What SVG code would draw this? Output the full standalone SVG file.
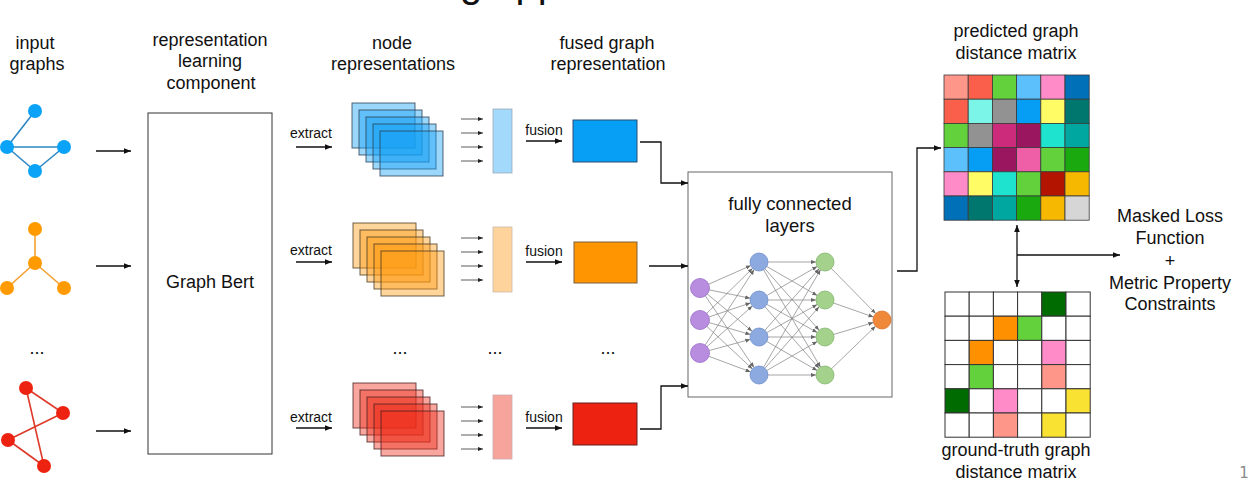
<svg xmlns="http://www.w3.org/2000/svg" width="1250" height="496" viewBox="0 0 1250 496">
<defs>
<style>
.t{font-family:"Liberation Sans",Arial,Helvetica,sans-serif;font-size:18px;fill:#111;text-anchor:middle}
.s{font-family:"Liberation Sans",Arial,Helvetica,sans-serif;font-size:14px;fill:#111;text-anchor:middle}
.c{stroke:#111;stroke-width:1.3;fill:none}
.sa{stroke:#333;stroke-width:0.8;fill:none}
.nn{stroke:#808080;stroke-width:0.7;fill:none}
.sb{stroke:#2a3f55;stroke-opacity:0.8;stroke-width:1;fill:#109ff5;fill-opacity:0.42}
.so{stroke:#4a3a20;stroke-opacity:0.8;stroke-width:1;fill:#ff9a10;fill-opacity:0.42}
.sr{stroke:#4a2020;stroke-opacity:0.8;stroke-width:1;fill:#ee2a18;fill-opacity:0.42}
.pm rect{stroke:#3a3a3a;stroke-width:0.8}
.gm rect{stroke:#333;stroke-width:1}
</style>
<marker id="ah" viewBox="0 0 10 10" refX="10" refY="5" markerWidth="7" markerHeight="7" markerUnits="userSpaceOnUse" orient="auto"><path d="M0,1 L10,5 L0,9 Z" fill="#111"/></marker>
<marker id="ahr" viewBox="0 0 10 10" refX="0" refY="5" markerWidth="7" markerHeight="7" markerUnits="userSpaceOnUse" orient="auto"><path d="M10,1 L0,5 L10,9 Z" fill="#111"/></marker>
<marker id="ahs" viewBox="0 0 10 10" refX="10" refY="5" markerWidth="5" markerHeight="5" markerUnits="userSpaceOnUse" orient="auto"><path d="M0,1 L10,5 L0,9 Z" fill="#222"/></marker>
<marker id="ahn" viewBox="0 0 10 10" refX="10" refY="5" markerWidth="5" markerHeight="5" markerUnits="userSpaceOnUse" orient="auto"><path d="M0,1 L10,5 L0,9 Z" fill="#666"/></marker>
</defs>
<rect width="1250" height="496" fill="#fff"/>

<text x="460" y="-3.5" style="font-family:'Liberation Sans',Arial,sans-serif;font-size:40px;fill:#111">g app</text>

<!-- headers -->
<g id="hdr-input"><text class="t" x="35" y="49">input</text><text class="t" x="37" y="70">graphs</text></g>
<g id="hdr-rep"><text class="t" x="210" y="46">representation</text><text class="t" x="210" y="67">learning</text><text class="t" x="211" y="89">component</text></g>
<g id="hdr-node"><text class="t" x="392" y="49">node</text><text class="t" x="393" y="70">representations</text></g>
<g id="hdr-fused"><text class="t" x="607" y="49">fused graph</text><text class="t" x="608" y="70">representation</text></g>
<g id="hdr-pred"><text class="t" x="1016" y="37">predicted graph</text><text class="t" x="1016" y="59">distance matrix</text></g>
<g id="hdr-gt"><text class="t" x="1016" y="456">ground-truth graph</text><text class="t" x="1016" y="478">distance matrix</text></g>
<g id="loss"><text class="t" x="1170" y="222">Masked Loss</text><text class="t" x="1170" y="244">Function</text><text class="t" x="1170" y="267">+</text><text class="t" x="1170" y="289">Metric Property</text><text class="t" x="1170" y="310">Constraints</text></g>
<text x="1244" y="478" style="font-family:'DejaVu Sans',sans-serif;font-size:15px;fill:#8a8a8a;text-anchor:middle">1</text>

<!-- input graphs -->
<g id="graph-blue" stroke="#2d87c4" stroke-width="1.6" fill="#0aa3f7">
<line x1="35" y1="111" x2="7" y2="147"/><line x1="7" y1="147" x2="64" y2="147"/><line x1="7" y1="147" x2="35" y2="171"/><line x1="35" y1="171" x2="64" y2="147"/>
<circle cx="35" cy="111" r="7" stroke="none"/><circle cx="7" cy="147" r="7" stroke="none"/><circle cx="64" cy="147" r="7" stroke="none"/><circle cx="35" cy="171" r="7" stroke="none"/>
</g>
<g id="graph-orange" stroke="#f5a030" stroke-width="1.6" fill="#ff9a00">
<line x1="35" y1="229" x2="35" y2="263"/><line x1="35" y1="263" x2="7" y2="288"/><line x1="35" y1="263" x2="64" y2="288"/>
<circle cx="35" cy="229" r="7" stroke="none"/><circle cx="35" cy="263" r="7" stroke="none"/><circle cx="7" cy="288" r="7" stroke="none"/><circle cx="64" cy="288" r="7" stroke="none"/>
</g>
<text class="t" x="37" y="354">...</text>
<g id="graph-red" stroke="#de3a2a" stroke-width="1.6" fill="#ee2211">
<line x1="26" y1="388" x2="63" y2="413"/><line x1="26" y1="388" x2="44" y2="466"/><line x1="63" y1="413" x2="8" y2="440"/><line x1="8" y1="440" x2="44" y2="466"/>
<circle cx="26" cy="388" r="7" stroke="none"/><circle cx="63" cy="413" r="7" stroke="none"/><circle cx="8" cy="440" r="7" stroke="none"/><circle cx="44" cy="466" r="7" stroke="none"/>
</g>

<!-- Graph Bert -->
<g id="graph-bert"><rect x="148" y="113" width="124" height="341" fill="#fff" stroke="#333" stroke-width="1"/><text class="t" x="210" y="288">Graph Bert</text></g>

<!-- stacks -->
<g id="stack-blue">
<rect class="sb" x="352" y="103" width="63" height="45"/><rect class="sb" x="359" y="110" width="63" height="45"/><rect class="sb" x="366" y="117" width="63" height="45"/><rect class="sb" x="373" y="124" width="63" height="45"/><rect class="sb" x="380" y="131" width="63" height="45"/>
</g>
<g id="stack-orange">
<rect class="so" x="353" y="223" width="63" height="45"/><rect class="so" x="360" y="230" width="63" height="45"/><rect class="so" x="367" y="237" width="63" height="45"/><rect class="so" x="374" y="244" width="63" height="45"/><rect class="so" x="381" y="251" width="63" height="45"/>
</g>
<g id="stack-red">
<rect class="sr" x="353" y="383" width="63" height="45"/><rect class="sr" x="360" y="390" width="63" height="45"/><rect class="sr" x="367" y="397" width="63" height="45"/><rect class="sr" x="374" y="404" width="63" height="45"/><rect class="sr" x="381" y="411" width="63" height="45"/>
</g>

<!-- bars -->
<g id="bar-blue"><rect x="493" y="109" width="19" height="64" fill="#a3d9fa" stroke="#9ab" stroke-width="0.8"/></g>
<g id="bar-orange"><rect x="493" y="227" width="19" height="65" fill="#fed39c" stroke="#cba" stroke-width="0.8"/></g>
<g id="bar-red"><rect x="493" y="395" width="19" height="64" fill="#f6a49c" stroke="#caa" stroke-width="0.8"/></g>

<!-- fused -->
<g id="fused-blue"><rect x="573" y="120" width="64" height="42" fill="#069ff5" stroke="#2a4f70" stroke-width="1"/></g>
<g id="fused-orange"><rect x="574" y="242" width="63" height="41" fill="#ff9500" stroke="#7a6040" stroke-width="1"/></g>
<g id="fused-red"><rect x="573" y="403" width="64" height="42" fill="#ee2211" stroke="#602020" stroke-width="1"/></g>

<text class="t" x="400" y="354">...</text>
<text class="t" x="495" y="354">...</text>
<text class="t" x="608" y="354">...</text>

<!-- labels -->
<text class="s" x="311" y="138">extract</text>
<text class="s" x="311" y="255">extract</text>
<text class="s" x="311" y="422">extract</text>
<text class="s" x="544" y="135">fusion</text>
<text class="s" x="544" y="256">fusion</text>
<text class="s" x="544" y="422">fusion</text>

<!-- FC layers -->
<g id="fc-layers">
<rect x="688" y="172" width="204" height="225" fill="#fff" stroke="#666" stroke-width="1"/>
<text class="t" x="790" y="210" style="font-size:18.5px">fully connected</text>
<text class="t" x="790" y="232" style="font-size:18.5px">layers</text>
<g class="nn" marker-end="url(#ahn)">
<line x1="700" y1="288" x2="750.8" y2="265.6"/><line x1="700" y1="288" x2="750.2" y2="298.2"/><line x1="700" y1="288" x2="752.1" y2="331.2"/><line x1="700" y1="288" x2="754" y2="367.5"/>
<line x1="700" y1="320" x2="752.6" y2="268.3"/><line x1="700" y1="320" x2="750.5" y2="302.9"/><line x1="700" y1="320" x2="750.4" y2="334.5"/><line x1="700" y1="320" x2="752.4" y2="368.9"/>
<line x1="700" y1="353" x2="754.1" y2="269.6"/><line x1="700" y1="353" x2="752.3" y2="306"/><line x1="700" y1="353" x2="750.3" y2="339.4"/><line x1="700" y1="353" x2="750.6" y2="371.9"/>
<line x1="759" y1="262" x2="816" y2="262"/><line x1="759" y1="262" x2="817.2" y2="295.5"/><line x1="759" y1="262" x2="819.1" y2="330.2"/><line x1="759" y1="262" x2="820.5" y2="367.2"/>
<line x1="759" y1="300" x2="817.2" y2="266.5"/><line x1="759" y1="300" x2="816" y2="300"/><line x1="759" y1="300" x2="817.2" y2="332.5"/><line x1="759" y1="300" x2="819.1" y2="368.2"/>
<line x1="759" y1="337" x2="819.1" y2="268.8"/><line x1="759" y1="337" x2="817.2" y2="304.5"/><line x1="759" y1="337" x2="816" y2="337"/><line x1="759" y1="337" x2="817.2" y2="370.5"/>
<line x1="759" y1="375" x2="820.5" y2="269.8"/><line x1="759" y1="375" x2="819.1" y2="306.8"/><line x1="759" y1="375" x2="817.2" y2="341.5"/><line x1="759" y1="375" x2="816" y2="375"/>
<line x1="825" y1="262" x2="875.7" y2="313.6"/><line x1="825" y1="300" x2="873.5" y2="317"/><line x1="825" y1="337" x2="873.4" y2="322.6"/><line x1="825" y1="375" x2="875.5" y2="326.2"/>
</g>
<g fill="#b88de0" stroke="#9a70c8" stroke-width="0.8">
<circle cx="700" cy="288" r="9.5"/><circle cx="700" cy="320" r="9.5"/><circle cx="700" cy="353" r="9.5"/>
</g>
<g fill="#8daae0" stroke="#7090cc" stroke-width="0.8">
<circle cx="759" cy="262" r="9"/><circle cx="759" cy="300" r="9"/><circle cx="759" cy="337" r="9"/><circle cx="759" cy="375" r="9"/>
</g>
<g fill="#a4d28c" stroke="#80b56c" stroke-width="0.8">
<circle cx="825" cy="262" r="9"/><circle cx="825" cy="300" r="9"/><circle cx="825" cy="337" r="9"/><circle cx="825" cy="375" r="9"/>
</g>
<circle cx="882" cy="320" r="9" fill="#f0883a" stroke="#d8702a" stroke-width="0.8"/>
</g>

<!-- predicted matrix -->
<g id="pred-matrix" class="pm">
<rect x="944" y="75" width="24.2" height="24.2" fill="#ff968a"/><rect x="968.2" y="75" width="24.2" height="24.2" fill="#f95f4a"/><rect x="992.4" y="75" width="24.2" height="24.2" fill="#62d13b"/><rect x="1016.6" y="75" width="24.2" height="24.2" fill="#5bc0fb"/><rect x="1040.8" y="75" width="24.2" height="24.2" fill="#ff8bc8"/><rect x="1065" y="75" width="24.2" height="24.2" fill="#0070b8"/>
<rect x="944" y="99.2" width="24.2" height="24.2" fill="#f95f4a"/><rect x="968.2" y="99.2" width="24.2" height="24.2" fill="#7af5e8"/><rect x="992.4" y="99.2" width="24.2" height="24.2" fill="#929292"/><rect x="1016.6" y="99.2" width="24.2" height="24.2" fill="#069df5"/><rect x="1040.8" y="99.2" width="24.2" height="24.2" fill="#fffc66"/><rect x="1065" y="99.2" width="24.2" height="24.2" fill="#00776e"/>
<rect x="944" y="123.4" width="24.2" height="24.2" fill="#62d13b"/><rect x="968.2" y="123.4" width="24.2" height="24.2" fill="#929292"/><rect x="992.4" y="123.4" width="24.2" height="24.2" fill="#cc2a7a"/><rect x="1016.6" y="123.4" width="24.2" height="24.2" fill="#9a1760"/><rect x="1040.8" y="123.4" width="24.2" height="24.2" fill="#1de3cf"/><rect x="1065" y="123.4" width="24.2" height="24.2" fill="#00a6a0"/>
<rect x="944" y="147.6" width="24.2" height="24.2" fill="#5bc0fb"/><rect x="968.2" y="147.6" width="24.2" height="24.2" fill="#069df5"/><rect x="992.4" y="147.6" width="24.2" height="24.2" fill="#9a1760"/><rect x="1016.6" y="147.6" width="24.2" height="24.2" fill="#ee5fa8"/><rect x="1040.8" y="147.6" width="24.2" height="24.2" fill="#62d13b"/><rect x="1065" y="147.6" width="24.2" height="24.2" fill="#1aaa10"/>
<rect x="944" y="171.8" width="24.2" height="24.2" fill="#ff8bc8"/><rect x="968.2" y="171.8" width="24.2" height="24.2" fill="#fffc66"/><rect x="992.4" y="171.8" width="24.2" height="24.2" fill="#1de3cf"/><rect x="1016.6" y="171.8" width="24.2" height="24.2" fill="#62d13b"/><rect x="1040.8" y="171.8" width="24.2" height="24.2" fill="#b31400"/><rect x="1065" y="171.8" width="24.2" height="24.2" fill="#f6b800"/>
<rect x="944" y="196" width="24.2" height="24.2" fill="#0070b8"/><rect x="968.2" y="196" width="24.2" height="24.2" fill="#00776e"/><rect x="992.4" y="196" width="24.2" height="24.2" fill="#00a6a0"/><rect x="1016.6" y="196" width="24.2" height="24.2" fill="#1aaa10"/><rect x="1040.8" y="196" width="24.2" height="24.2" fill="#f6b800"/><rect x="1065" y="196" width="24.2" height="24.2" fill="#d6d6d6"/>
</g>

<!-- ground-truth matrix -->
<g id="gt-matrix" class="gm">
<rect x="945" y="292" width="24.2" height="24.2" fill="#fff"/><rect x="969.2" y="292" width="24.2" height="24.2" fill="#fff"/><rect x="993.4" y="292" width="24.2" height="24.2" fill="#fff"/><rect x="1017.6" y="292" width="24.2" height="24.2" fill="#fff"/><rect x="1041.8" y="292" width="24.2" height="24.2" fill="#006b00"/><rect x="1066" y="292" width="24.2" height="24.2" fill="#fff"/>
<rect x="945" y="316.2" width="24.2" height="24.2" fill="#fff"/><rect x="969.2" y="316.2" width="24.2" height="24.2" fill="#fff"/><rect x="993.4" y="316.2" width="24.2" height="24.2" fill="#ff9000"/><rect x="1017.6" y="316.2" width="24.2" height="24.2" fill="#62d13b"/><rect x="1041.8" y="316.2" width="24.2" height="24.2" fill="#fff"/><rect x="1066" y="316.2" width="24.2" height="24.2" fill="#fff"/>
<rect x="945" y="340.4" width="24.2" height="24.2" fill="#fff"/><rect x="969.2" y="340.4" width="24.2" height="24.2" fill="#ff9000"/><rect x="993.4" y="340.4" width="24.2" height="24.2" fill="#fff"/><rect x="1017.6" y="340.4" width="24.2" height="24.2" fill="#fff"/><rect x="1041.8" y="340.4" width="24.2" height="24.2" fill="#ff8bc8"/><rect x="1066" y="340.4" width="24.2" height="24.2" fill="#fff"/>
<rect x="945" y="364.6" width="24.2" height="24.2" fill="#fff"/><rect x="969.2" y="364.6" width="24.2" height="24.2" fill="#62d13b"/><rect x="993.4" y="364.6" width="24.2" height="24.2" fill="#fff"/><rect x="1017.6" y="364.6" width="24.2" height="24.2" fill="#fff"/><rect x="1041.8" y="364.6" width="24.2" height="24.2" fill="#ff968a"/><rect x="1066" y="364.6" width="24.2" height="24.2" fill="#fff"/>
<rect x="945" y="388.8" width="24.2" height="24.2" fill="#006b00"/><rect x="969.2" y="388.8" width="24.2" height="24.2" fill="#fff"/><rect x="993.4" y="388.8" width="24.2" height="24.2" fill="#ff8bc8"/><rect x="1017.6" y="388.8" width="24.2" height="24.2" fill="#fff"/><rect x="1041.8" y="388.8" width="24.2" height="24.2" fill="#fff"/><rect x="1066" y="388.8" width="24.2" height="24.2" fill="#fae232"/>
<rect x="945" y="413" width="24.2" height="24.2" fill="#fff"/><rect x="969.2" y="413" width="24.2" height="24.2" fill="#fff"/><rect x="993.4" y="413" width="24.2" height="24.2" fill="#ff968a"/><rect x="1017.6" y="413" width="24.2" height="24.2" fill="#fff"/><rect x="1041.8" y="413" width="24.2" height="24.2" fill="#fae232"/><rect x="1066" y="413" width="24.2" height="24.2" fill="#fff"/>
</g>

<!-- connectors -->
<g id="connectors">
<g class="c" marker-end="url(#ah)">
<line x1="96" y1="151" x2="131" y2="151"/><line x1="96" y1="266" x2="131" y2="266"/><line x1="96" y1="431" x2="131" y2="431"/>
<line x1="296" y1="147" x2="332" y2="147"/><line x1="296" y1="262" x2="332" y2="262"/><line x1="296" y1="428" x2="332" y2="428"/>
<line x1="526" y1="141" x2="562" y2="141"/><line x1="526" y1="262" x2="562" y2="262"/><line x1="526" y1="428" x2="562" y2="428"/>
<polyline points="640,142 661,142 661,183 688,183"/>
<line x1="649" y1="266" x2="688" y2="266"/>
<polyline points="640,429 661,429 661,386 688,386"/>
<polyline points="897,271 917,271 917,148 941,148"/>
<line x1="1017" y1="255" x2="1120" y2="255"/>
</g>
<line class="c" x1="1017" y1="225" x2="1017" y2="287" marker-start="url(#ahr)" marker-end="url(#ah)"/>
<g class="sa" marker-end="url(#ahs)">
<line x1="461" y1="119" x2="483" y2="119"/><line x1="461" y1="133" x2="483" y2="133"/><line x1="461" y1="147" x2="483" y2="147"/><line x1="461" y1="161" x2="483" y2="161"/>
<line x1="461" y1="238" x2="483" y2="238"/><line x1="461" y1="252" x2="483" y2="252"/><line x1="461" y1="266" x2="483" y2="266"/><line x1="461" y1="280" x2="483" y2="280"/>
<line x1="461" y1="407" x2="483" y2="407"/><line x1="461" y1="421" x2="483" y2="421"/><line x1="461" y1="435" x2="483" y2="435"/><line x1="461" y1="449" x2="483" y2="449"/>
</g>
</g>
</svg>
